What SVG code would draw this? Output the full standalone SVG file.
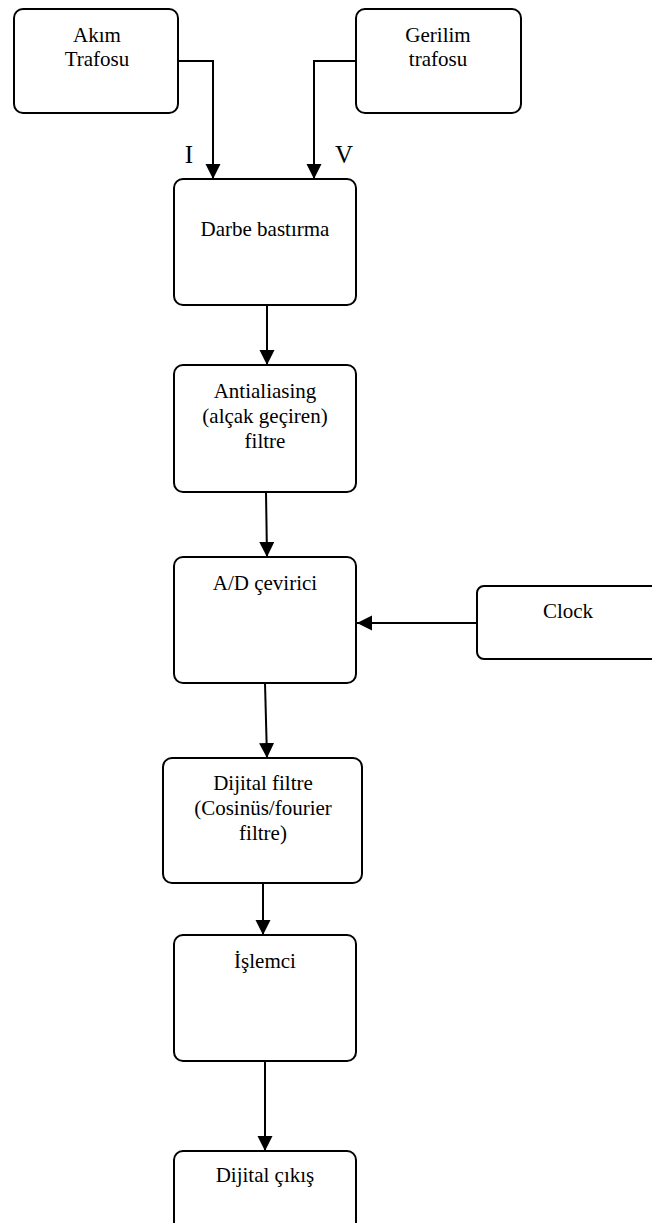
<svg xmlns="http://www.w3.org/2000/svg" width="652" height="1223" viewBox="0 0 652 1223">
<style>
.box{fill:#fff;stroke:#000;stroke-width:2}
.t{font-family:"Liberation Serif","Times New Roman",serif;font-size:21px;fill:#000;text-anchor:middle}
.lbl{font-family:"Liberation Serif","Times New Roman",serif;font-size:25px;fill:#000;text-anchor:middle}
.c{fill:none;stroke:#000;stroke-width:2}
</style>
<defs>
<marker id="ah" markerUnits="userSpaceOnUse" markerWidth="16" markerHeight="16" refX="15" refY="7.5" orient="auto">
<path d="M0,0 L15,7.5 L0,15 z" fill="#000"/>
</marker>
</defs>
<rect width="652" height="1223" fill="#fff"/>
<g id="connectors">
<path class="c" d="M178,61 H213 V179" marker-end="url(#ah)"/>
<path class="c" d="M356,61 H314 V179" marker-end="url(#ah)"/>
<path class="c" d="M267,305 V365" marker-end="url(#ah)"/>
<path class="c" d="M266,492 L267,557" marker-end="url(#ah)"/>
<path class="c" d="M477,623 H357" marker-end="url(#ah)"/>
<path class="c" d="M265,683 L267,758" marker-end="url(#ah)"/>
<path class="c" d="M263,883 V935" marker-end="url(#ah)"/>
<path class="c" d="M265,1061 V1151" marker-end="url(#ah)"/>
<text class="lbl" x="189" y="163">I</text>
<text class="lbl" x="344" y="163">V</text>
</g>
<g id="akim">
<rect class="box" x="14" y="9" width="164" height="104" rx="9"/>
<text class="t" x="97" y="42">Akım</text>
<text class="t" x="97" y="66">Trafosu</text>
</g>
<g id="gerilim">
<rect class="box" x="356" y="9" width="165" height="104" rx="9"/>
<text class="t" x="438" y="42">Gerilim</text>
<text class="t" x="438" y="66">trafosu</text>
</g>
<g id="darbe">
<rect class="box" x="174" y="179" width="182" height="126" rx="9"/>
<text class="t" x="265" y="236">Darbe bastırma</text>
</g>
<g id="antialiasing">
<rect class="box" x="174" y="365" width="182" height="127" rx="9"/>
<text class="t" x="265" y="398">Antialiasing</text>
<text class="t" x="265" y="423">(alçak geçiren)</text>
<text class="t" x="265" y="448">filtre</text>
</g>
<g id="ad">
<rect class="box" x="174" y="557" width="182" height="126" rx="9"/>
<text class="t" x="265" y="590">A/D çevirici</text>
</g>
<g id="clock">
<rect class="box" x="477" y="586" width="190" height="73" rx="7"/>
<text class="t" x="568" y="618">Clock</text>
</g>
<g id="dijitalfiltre">
<rect class="box" x="163" y="758" width="199" height="125" rx="9"/>
<text class="t" x="263" y="790">Dijital filtre</text>
<text class="t" x="263" y="815">(Cosinüs/fourier</text>
<text class="t" x="263" y="840">filtre)</text>
</g>
<g id="islemci">
<rect class="box" x="174" y="935" width="182" height="126" rx="9"/>
<text class="t" x="265" y="968">İşlemci</text>
</g>
<g id="cikis">
<rect class="box" x="174" y="1151" width="182" height="90" rx="9"/>
<text class="t" x="265" y="1182">Dijital çıkış</text>
</g>
</svg>
